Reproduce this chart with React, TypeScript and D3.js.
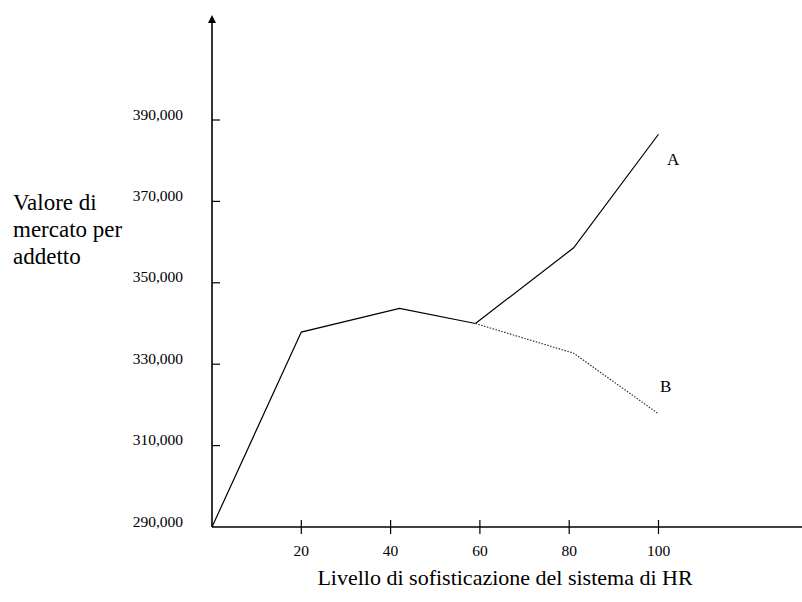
import React from "react";
import * as d3 from "d3";

const xTicks = [20, 40, 60, 80, 100];
const yTicks = [290000, 310000, 330000, 350000, 370000, 390000];
const commonX = [0, 20, 42, 59];
const commonY = [290000, 337900, 343700, 340000];
const branchX = [59, 81, 100];
const seriesA = [340000, 358600, 386500];
const seriesB = [340000, 332700, 317800];
const yTitle = ["Valore di", "mercato per", "addetto"];
const xTitle = "Livello di sofisticazione del sistema di HR";

export default function App() {
  const W = 802, H = 602;
  const x0 = 212, y0 = 527;
  const x = d3.scaleLinear().domain([0, 100]).range([x0, 658.5]);
  const y = d3.scaleLinear().domain([290000, 390000]).range([y0, 120]);
  const font = "'Liberation Serif', 'Times New Roman', serif";
  const line = d3.line<[number, number]>().x(d => x(d[0])).y(d => y(d[1]));
  const common = line(commonX.map((v, i) => [v, commonY[i]]) as [number, number][]) || "";
  const pathA = line(branchX.map((v, i) => [v, seriesA[i]]) as [number, number][]) || "";
  const pathB = line(branchX.map((v, i) => [v, seriesB[i]]) as [number, number][]) || "";
  const fmt = d3.format(",");
  return (
    <svg width={W} height={H} style={{ position: "absolute", left: 0, top: 0, background: "#fff" }} fontFamily={font}>
      <rect width={W} height={H} fill="#fff" />
      {/* axes */}
      <line x1={x0} y1={y0} x2={x0} y2={20} stroke="#000" strokeWidth={1.6} />
      <path d={`M${x0},15 L${x0 - 4},23 L${x0 + 4},23 Z`} fill="#000" />
      <line x1={x0} y1={y0} x2={802} y2={y0} stroke="#000" strokeWidth={1.6} />
      {yTicks.map(t => (
        <g key={t}>
          {t !== 290000 && <line x1={x0} x2={x0 + 8} y1={y(t)} y2={y(t)} stroke="#000" strokeWidth={1.2} />}
          <text x={183} y={y(t) - 4} textAnchor="end" dominantBaseline="middle" fontSize={15.5}>{fmt(t)}</text>
        </g>
      ))}
      {xTicks.map(t => (
        <g key={t}>
          <line x1={x(t)} x2={x(t)} y1={y0 - 7} y2={y0 + 7} stroke="#000" strokeWidth={1.2} />
          <text x={x(t)} y={556} textAnchor="middle" fontSize={15.5}>{t}</text>
        </g>
      ))}
      {/* lines */}
      <path d={common} fill="none" stroke="#000" strokeWidth={1.2} />
      <path d={pathA} fill="none" stroke="#000" strokeWidth={1.2} />
      <path d={pathB} fill="none" stroke="#333" strokeWidth={1.2} strokeDasharray="1.5,1.5" />
      <text x={667} y={165} fontSize={17}>A</text>
      <text x={660} y={392} fontSize={17}>B</text>
      {/* titles */}
      {yTitle.map((s, i) => (
        <text key={s} x={13} y={210 + i * 27} fontSize={23}>{s}</text>
      ))}
      <text x={505} y={585} textAnchor="middle" fontSize={22}>{xTitle}</text>
    </svg>
  );
}
